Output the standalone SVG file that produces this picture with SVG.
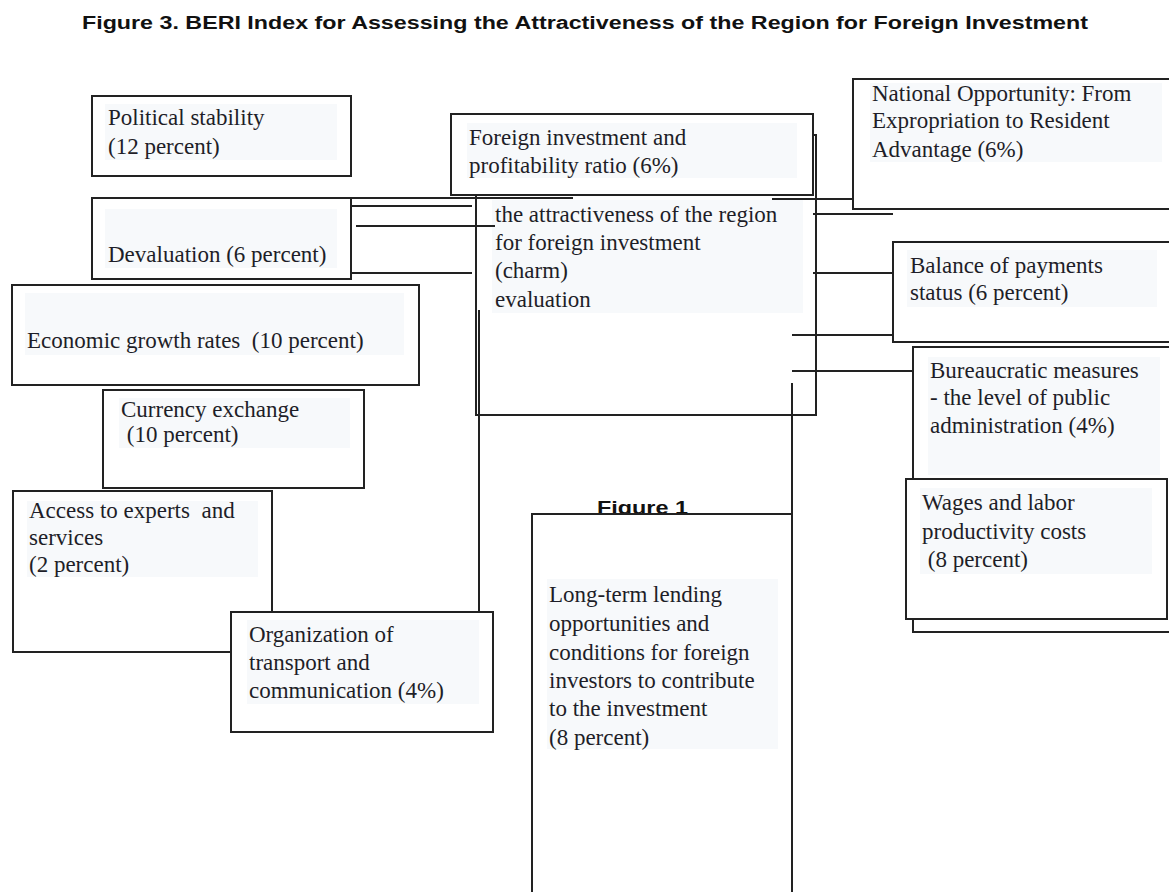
<svg xmlns="http://www.w3.org/2000/svg" width="1169" height="892" viewBox="0 0 1169 892">
  <style>
    .box { fill: #ffffff; stroke: #222222; stroke-width: 2; }
    .bg { fill: #f7f9fb; stroke: none; }
    .t { font-family: "Liberation Serif", "Times New Roman", serif; font-size: 23px; fill: #1e1e28; }
    .hd { font-family: "Liberation Sans", Arial, sans-serif; font-weight: bold; font-size: 18px; fill: #111111; }
    .ln { stroke: #222222; stroke-width: 2; fill: none; }
  </style>
  <rect width="1169" height="892" fill="#ffffff"/>

  <text class="hd" x="82" y="29" textLength="1006" lengthAdjust="spacingAndGlyphs">Figure 3. BERI Index for Assessing the Attractiveness of the Region for Foreign Investment</text>

  <!-- central evaluation box -->
  <g id="center">
    <rect class="box" x="476" y="135" width="340" height="280"/>
    <rect class="bg" x="492" y="200" width="311" height="113"/>
    <text class="t" x="495" y="222">the attractiveness of the region</text>
    <text class="t" x="495" y="250">for foreign investment</text>
    <text class="t" x="495" y="278">(charm)</text>
    <text class="t" x="495" y="307">evaluation</text>
  </g>

  <g id="connectors">
    <line class="ln" x1="351" y1="198" x2="573" y2="198"/>
    <line class="ln" x1="772" y1="199" x2="853" y2="199"/>
    <line class="ln" x1="351" y1="206" x2="472" y2="206"/>
    <line class="ln" x1="356" y1="226" x2="495" y2="226"/>
    <line class="ln" x1="351" y1="273" x2="472" y2="273"/>
    <line class="ln" x1="479" y1="310" x2="479" y2="612"/>
    <line class="ln" x1="813" y1="214" x2="893" y2="214"/>
    <line class="ln" x1="813" y1="273" x2="893" y2="273"/>
    <line class="ln" x1="792" y1="335" x2="893" y2="335"/>
    <line class="ln" x1="792" y1="371" x2="912" y2="371"/>
    <line class="ln" x1="792" y1="383" x2="792" y2="892"/>
  </g>

  <g id="foreign-investment">
    <rect class="box" x="451" y="114" width="362" height="81"/>
    <rect class="bg" x="467" y="123" width="330" height="55"/>
    <text class="t" x="469" y="145">Foreign investment and</text>
    <text class="t" x="469" y="173">profitability ratio (6%)</text>
  </g>

  <g id="political-stability">
    <rect class="box" x="92" y="96" width="259" height="80"/>
    <rect class="bg" x="105" y="104" width="232" height="56"/>
    <text class="t" x="108" y="125">Political stability</text>
    <text class="t" x="108" y="154">(12 percent)</text>
  </g>

  <g id="devaluation">
    <rect class="box" x="92" y="198" width="259" height="81"/>
    <rect class="bg" x="105" y="209" width="232" height="59"/>
    <text class="t" x="108" y="262">Devaluation (6 percent)</text>
  </g>

  <g id="economic-growth">
    <rect class="box" x="12" y="285" width="407" height="100"/>
    <rect class="bg" x="25" y="293" width="379" height="62"/>
    <text class="t" x="27" y="348" xml:space="preserve">Economic growth rates  (10 percent)</text>
  </g>

  <g id="currency-exchange">
    <rect class="box" x="103" y="390" width="261" height="98"/>
    <rect class="bg" x="119" y="398" width="231" height="50"/>
    <text class="t" x="121" y="417">Currency exchange</text>
    <text class="t" x="121" y="442" xml:space="preserve"> (10 percent)</text>
  </g>

  <g id="experts-access">
    <rect class="box" x="13" y="491" width="259" height="161"/>
    <rect class="bg" x="27" y="501" width="231" height="76"/>
    <text class="t" x="29" y="518" xml:space="preserve">Access to experts  and</text>
    <text class="t" x="29" y="545">services</text>
    <text class="t" x="29" y="572">(2 percent)</text>
  </g>

  <g id="transport-communication">
    <rect class="box" x="231" y="612" width="262" height="120"/>
    <rect class="bg" x="247" y="620" width="232" height="84"/>
    <text class="t" x="249" y="642">Organization of</text>
    <text class="t" x="249" y="670">transport and</text>
    <text class="t" x="249" y="698">communication (4%)</text>
  </g>

  <g id="long-term-lending">
    <text class="hd" x="597" y="514" textLength="91" lengthAdjust="spacingAndGlyphs">Figure 1</text>
    <rect class="box" x="532" y="514" width="260" height="400"/>
    <rect class="bg" x="547" y="579" width="231" height="170"/>
    <text class="t" x="549" y="602">Long-term lending</text>
    <text class="t" x="549" y="631">opportunities and</text>
    <text class="t" x="549" y="660">conditions for foreign</text>
    <text class="t" x="549" y="688">investors to contribute</text>
    <text class="t" x="549" y="716">to the investment</text>
    <text class="t" x="549" y="745">(8 percent)</text>
  </g>

  <g id="national-opportunity">
    <rect class="box" x="853" y="79" width="330" height="130"/>
    <rect class="bg" x="870" y="83" width="292" height="79"/>
    <text class="t" x="872" y="101">National Opportunity: From</text>
    <text class="t" x="872" y="128">Expropriation to Resident</text>
    <text class="t" x="872" y="157">Advantage (6%)</text>
  </g>

  <g id="balance-of-payments">
    <rect class="box" x="893" y="242" width="290" height="100"/>
    <rect class="bg" x="907" y="250" width="250" height="57"/>
    <text class="t" x="910" y="273">Balance of payments</text>
    <text class="t" x="910" y="300">status (6 percent)</text>
  </g>

  <g id="bureaucratic-measures">
    <rect class="box" x="913" y="347" width="270" height="285"/>
    <rect class="bg" x="928" y="357" width="232" height="118"/>
    <text class="t" x="930" y="378">Bureaucratic measures</text>
    <text class="t" x="930" y="405">- the level of public</text>
    <text class="t" x="930" y="433">administration (4%)</text>
  </g>

  <g id="wages-labor">
    <rect class="box" x="906" y="479" width="261" height="140"/>
    <rect class="bg" x="920" y="488" width="232" height="86"/>
    <text class="t" x="922" y="510">Wages and labor</text>
    <text class="t" x="922" y="539">productivity costs</text>
    <text class="t" x="922" y="567" xml:space="preserve"> (8 percent)</text>
  </g>
</svg>
